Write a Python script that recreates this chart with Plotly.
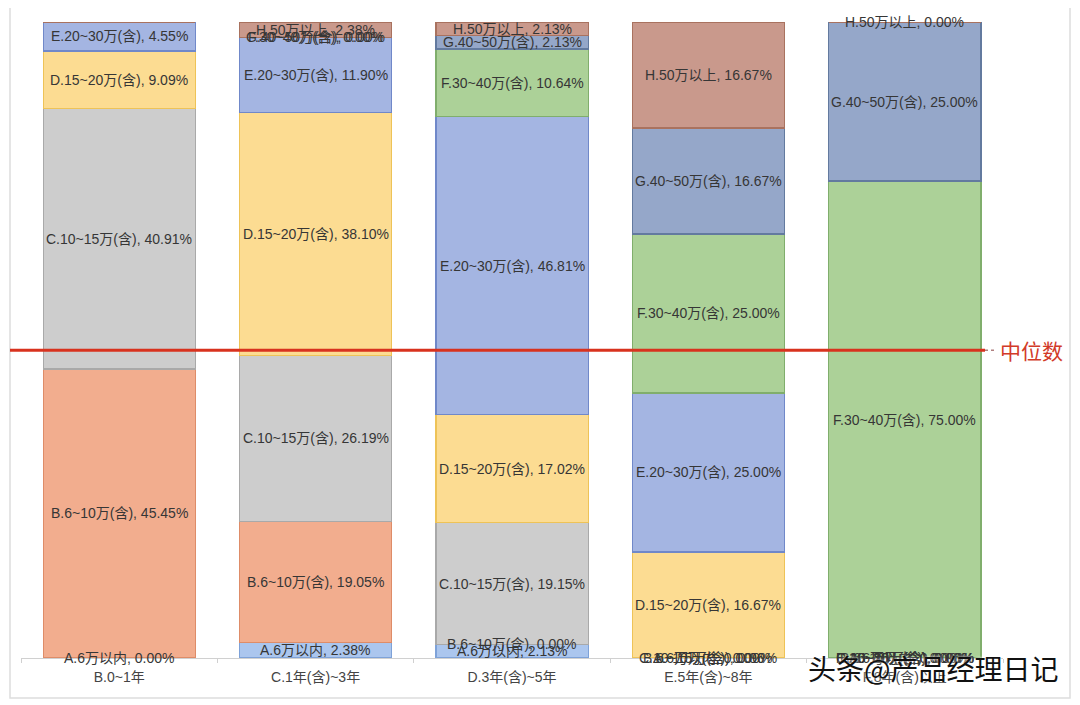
import plotly.graph_objects as go

categories = ["B.0~1年", "C.1年(含)~3年", "D.3年(含)~5年", "E.5年(含)~8年", "F.8年(含)以上"]
series_names = ["A.6万以内", "B.6~10万(含)", "C.10~15万(含)", "D.15~20万(含)",
                "E.20~30万(含)", "F.30~40万(含)", "G.40~50万(含)", "H.50万以上"]
A = [0.00, 2.38, 2.13, 0.00, 0.00]
B = [45.45, 19.05, 0.00, 0.00, 0.00]
C = [40.91, 26.19, 19.15, 0.00, 0.00]
D = [9.09, 38.10, 17.02, 16.67, 0.00]
E = [4.55, 11.90, 46.81, 25.00, 0.00]
F = [None, 0.00, 10.64, 25.00, 75.00]
G = [None, 0.00, 2.13, 16.67, 25.00]
H = [None, 2.38, 2.13, 16.67, 0.00]
series_values = [A, B, C, D, E, F, G, H]
median_pct = 48.4

fills = ["#abc6ee", "#f2ad8e", "#cdcdcd", "#fcdc92", "#a4b5e2", "#acd198", "#95a7c9", "#c9998c"]
lines = ["#7ea2d8", "#de8c68", "#a9a9a9", "#eec357", "#7088c9", "#80ae6c", "#637a9f", "#a9725f"]

W, Hh = 1080, 705
OFF = 8  # page body margin
PX0, PX1, PY0, PY1 = 21, 1003, 22, 658
L = PX0 - OFF
R = W - (PX1 - OFF)
T = PY0 - OFF
Bm = Hh - (PY1 - OFF)
pw, ph = PX1 - PX0, PY1 - PY0

def px2x(px):
    return (px - PX0) / pw

def px2y(py):
    return (PY1 - py) / ph

FONT = "Liberation Sans, Noto Sans CJK SC, sans-serif"

fig = go.Figure()
annotations = []
for name, vals, fc, lc in zip(series_names, series_values, fills, lines):
    yv = [v if v is not None else 0 for v in vals]
    fig.add_trace(go.Bar(x=categories, y=yv, name=name,
                         marker=dict(color=fc, line=dict(color=lc, width=1.2)),
                         hoverinfo="skip"))

cum = [0.0] * len(categories)
for name, vals in zip(series_names, series_values):
    for i, v in enumerate(vals):
        if v is None:
            continue
        mid = cum[i] + v / 2
        annotations.append(dict(x=categories[i], y=mid, xref="x", yref="y",
                                text=f"{name}, {v:.2f}%", showarrow=False,
                                font=dict(size=14, color="#363636", family=FONT)))
        cum[i] += v

annotations.append(dict(x=px2x(998), y=median_pct, xref="paper", yref="y",
                        text="中位数", showarrow=False, xanchor="left", yanchor="middle",
                        font=dict(size=21, color="#d23a28",
                                  family="Noto Sans CJK SC, sans-serif")))
annotations.append(dict(x=px2x(806), y=px2y(668), xref="paper", yref="paper",
                        text="头条@产品经理日记", showarrow=False,
                        xanchor="left", yanchor="middle",
                        font=dict(size=28, color="#111111",
                                  family="Noto Sans CJK SC, sans-serif",
                                  shadow="0px 0px 3px white")))

shapes = [
    dict(type="rect", xref="paper", yref="paper",
         x0=px2x(10), x1=px2x(1070), y0=px2y(698), y1=px2y(5),
         line=dict(color="#dddddd", width=1.5), fillcolor="rgba(0,0,0,0)", layer="below"),
    dict(type="line", xref="paper", yref="y", x0=px2x(10), x1=px2x(985),
         y0=median_pct, y1=median_pct, line=dict(color="#d8321e", width=3)),
    dict(type="line", xref="paper", yref="y", x0=px2x(985), x1=px2x(996),
         y0=median_pct, y1=median_pct, line=dict(color="#b08080", width=1.5, dash="dot")),
]

fig.update_layout(
    barmode="stack", bargap=0.225,
    width=W, height=Hh,
    margin=dict(l=L, r=R, t=T, b=Bm),
    paper_bgcolor="white", plot_bgcolor="white",
    showlegend=False,
    annotations=annotations, shapes=shapes,
    font=dict(family=FONT),
)
fig.update_xaxes(showline=True, linecolor="#d0d0d0", linewidth=1,
                 tickson="boundaries", ticks="outside", ticklen=4, tickcolor="#d0d0d0",
                 ticklabelstandoff=6,
                 tickfont=dict(size=14, color="#444444"), range=[-0.5, 4.5])
fig.update_yaxes(range=[0, 100], visible=False, showgrid=False)

fig.write_html("out.html")
